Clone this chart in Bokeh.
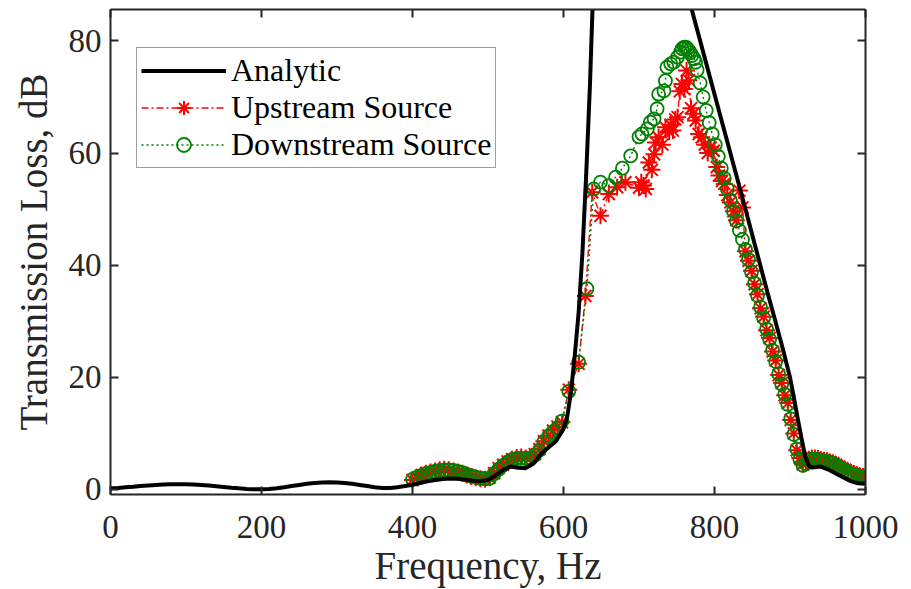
from bokeh.plotting import figure
from bokeh.models import Range1d, LinearAxis, FixedTicker, Legend, LegendItem
from bokeh.embed import file_html
from bokeh.resources import INLINE

# ---------------- data ----------------
analytic_f = [0, 10, 20, 30, 40, 50, 60, 70, 80, 90,
              100, 110, 120, 130, 140, 150, 160, 170, 180, 190,
              200, 210, 220, 230, 240, 250, 260, 270, 280, 290,
              300, 310, 320, 330, 340, 350, 360, 370, 380, 390,
              400, 410, 420, 430, 440, 450, 460, 470, 480, 490,
              500, 510, 520, 530, 540, 550, 560, 570, 580, 590,
              600, 605, 610, 615, 620, 625, 630, 635, 640, 645,
              660, 700, 740, 760, 765, 770, 780, 790, 800, 810,
              820, 830, 840, 850, 860, 870, 880, 890, 900, 905,
              910, 915, 920, 925, 930, 940, 950, 960, 970, 980,
              990, 1000]
analytic_tl = [0.20, 0.28, 0.38, 0.48, 0.60, 0.70, 0.80, 0.87, 0.92, 0.94,
               0.93, 0.88, 0.80, 0.70, 0.58, 0.45, 0.32, 0.20, 0.10, 0.05,
               0.05, 0.10, 0.22, 0.40, 0.60, 0.80, 1.00, 1.15, 1.25, 1.28,
               1.25, 1.15, 1.00, 0.80, 0.60, 0.40, 0.28, 0.28, 0.40, 0.60,
               0.85, 1.15, 1.45, 1.70, 1.88, 1.95, 1.90, 1.75, 1.55, 1.45,
               1.70, 2.50, 3.50, 4.10, 3.85, 3.80, 4.60, 6.30, 7.50, 8.60,
               10.8, 13.0, 17.5, 24.0, 31.5, 42.0, 56.0, 72.0, 92.0, 105.0,
               150.0, 200.0, 150.0, 100.0, 88.5, 85.5, 80.5, 75.5, 70.5, 65.5,
               60.5, 55.5, 50.5, 45.4, 40.3, 35.2, 30.3, 25.3, 20.0, 16.5,
               12.8, 9.3, 6.0, 4.2, 3.9, 4.1, 3.6, 2.9, 2.2, 1.5,
               1.1, 1.0]

upstream_f = [400, 406, 412, 418, 424, 430, 436, 442, 448, 454,
              460, 466, 472, 478, 484, 490, 496, 502, 508, 514,
              520, 526, 532, 538, 544, 550, 556, 562, 568, 574,
              580, 586, 592, 598, 607, 620, 629, 638, 649, 660,
              671, 682, 700, 703, 706, 709, 713, 717, 720, 722,
              726, 731, 735, 740, 742, 745, 748, 751, 754, 757,
              760, 763, 766, 769, 772, 775, 779, 783, 787, 791,
              795, 799, 803, 806, 810, 813, 817, 821, 825, 829,
              833, 837, 841, 845, 849, 853, 857, 861, 865, 869,
              873, 877, 881, 885, 889, 893, 897, 901, 905, 909,
              913, 917, 921, 925, 929, 933, 937, 941, 945, 949,
              953, 957, 961, 965, 969, 973, 977, 981, 985, 989,
              993, 997, 1000]
upstream_tl = [1.7, 2.1, 2.6, 2.9, 3.1, 3.3, 3.5, 3.6, 3.5, 3.3,
               3.1, 2.9, 2.6, 2.3, 2.1, 1.9, 1.8, 2.1, 2.9, 3.8,
               4.4, 5.0, 5.4, 5.7, 5.8, 5.6, 5.7, 6.3, 7.2, 8.6,
               9.6, 10.5, 11.2, 12.0, 17.8, 22.4, 34.5, 53.0, 48.8, 52.7,
               53.9, 54.8, 53.8, 54.8, 54.2, 53.6, 58.3, 57.0, 59.8, 61.9,
               62.8, 61.5, 64.6, 63.8, 65.0, 64.0, 66.0, 66.4, 71.0, 72.3,
               71.4, 74.7, 73.0, 68.0, 67.0, 65.8, 63.4, 62.8, 61.5, 60.0,
               61.0, 60.4, 57.5, 56.0, 55.0, 54.5, 52.5, 51.2, 49.6, 48.0,
               53.3, 50.3, 42.5, 40.8, 39.0, 36.6, 34.8, 32.3, 30.8, 28.4,
               27.0, 24.6, 23.0, 20.4, 19.0, 16.8, 15.4, 12.4, 10.0, 7.0,
               5.6, 4.5, 4.8, 5.4, 5.6, 5.6, 5.5, 5.3, 5.2, 5.1,
               4.9, 4.7, 4.4, 4.1, 3.8, 3.5, 3.2, 3.0, 2.8, 2.6,
               2.4, 2.3, 2.2]

downstream_f = [400, 406, 412, 418, 424, 430, 436, 442, 448, 454,
                460, 466, 472, 478, 484, 490, 496, 502, 508, 514,
                520, 526, 532, 538, 544, 550, 556, 562, 568, 574,
                580, 586, 592, 598, 607, 620, 631, 640, 649, 660,
                669, 678, 689, 700, 704, 711, 715, 720, 724, 726,
                733, 735, 737, 742, 746, 751, 755, 757, 760, 762,
                764, 766, 768, 770, 773, 775, 777, 781, 785, 789,
                793, 797, 801, 805, 809, 813, 817, 821, 825, 829,
                833, 837, 841, 845, 849, 853, 857, 861, 865, 869,
                873, 877, 881, 885, 889, 893, 897, 901, 905, 909,
                913, 917, 921, 925, 929, 933, 937, 941, 945, 949,
                953, 957, 961, 965, 969, 973, 977, 981, 985, 989,
                993, 997, 1000]
downstream_tl = [1.8, 2.2, 2.5, 2.8, 3.0, 3.2, 3.4, 3.5, 3.5, 3.4,
                 3.2, 3.0, 2.7, 2.4, 2.2, 2.0, 1.9, 2.0, 2.8, 3.6,
                 4.3, 4.9, 5.3, 5.5, 5.6, 5.5, 5.6, 6.1, 7.0, 8.5,
                 9.5, 10.3, 11.0, 12.2, 17.5, 22.7, 35.8, 53.6, 54.8, 54.2,
                 55.7, 57.3, 59.5, 62.9, 63.4, 64.3, 65.5, 66.1, 67.9, 70.5,
                 71.1, 72.9, 75.3, 75.9, 76.2, 77.1, 78.0, 78.6, 78.9, 78.9,
                 78.6, 78.3, 77.9, 77.4, 76.8, 76.2, 74.8, 72.5, 70.0, 67.6,
                 65.4, 63.4, 61.5, 59.4, 57.3, 55.5, 53.6, 51.6, 49.6, 47.9,
                 46.2, 44.6, 42.8, 41.0, 38.8, 36.8, 34.6, 32.5, 30.6, 28.6,
                 26.8, 24.8, 22.8, 20.6, 18.8, 17.0, 15.2, 12.6, 9.8, 7.2,
                 5.4, 4.3, 4.6, 5.2, 5.4, 5.4, 5.3, 5.2, 5.0, 5.0,
                 4.8, 4.6, 4.3, 4.0, 3.7, 3.4, 3.0, 2.8, 2.6, 2.4,
                 2.3, 2.2, 2.1]

x_ticks = [0, 200, 400, 600, 800, 1000]
y_ticks = [0, 20, 40, 60, 80]

# ---------------- styling ----------------
FONT = "Liberation Serif"
AXC = "#262626"
RED = "#ff0000"
GREEN = "#008000"

p = figure(width=911, height=589, output_backend="svg", toolbar_location=None,
           x_range=Range1d(0, 1000), y_range=Range1d(-0.9, 85.6),
           min_border_left=110, min_border_right=46, min_border_top=9,
           min_border_bottom=95, background_fill_color="white",
           border_fill_color="white")
p.grid.visible = False
p.outline_line_color = None

p.add_layout(LinearAxis(), "right")
p.add_layout(LinearAxis(), "above")

for ax in p.xaxis:
    ax.ticker = FixedTicker(ticks=x_ticks)
for ax in p.yaxis:
    ax.ticker = FixedTicker(ticks=y_ticks)
for ax in p.xaxis + p.yaxis:
    ax.major_tick_in = 8
    ax.major_tick_out = 0
    ax.minor_tick_line_color = None
    ax.axis_line_color = AXC
    ax.axis_line_width = 2
    ax.major_tick_line_color = AXC
    ax.major_tick_line_width = 2
    ax.major_label_text_font = FONT
    ax.major_label_text_font_size = "33px"
    ax.major_label_text_color = AXC
    ax.axis_label_text_font = FONT
    ax.axis_label_text_font_size = "39px"
    ax.axis_label_text_font_style = "normal"
    ax.axis_label_text_color = AXC

# mirrored axes carry ticks only
for ax in (p.right[0], p.above[0]):
    ax.major_label_text_color = None
    ax.major_label_text_font_size = "10px"
    ax.major_label_standoff = 0

p.below[0].axis_label = "Frequency, Hz"
p.left[0].axis_label = "Transmission Loss, dB"
p.below[0].major_label_standoff = 21
p.left[0].major_label_standoff = 9
p.below[0].axis_label_standoff = 3
p.left[0].axis_label_standoff = 11

# ---------------- series ----------------
red_line = p.line(upstream_f, upstream_tl, line_color=RED, line_width=1.4,
                  line_dash="7 3 2 3")
red_pts = p.scatter(upstream_f, upstream_tl, marker="asterisk", size=17,
                    line_color=RED, line_width=2)
green_line = p.line(downstream_f, downstream_tl, line_color=GREEN, line_width=1.4,
                    line_dash="2 3")
green_pts = p.scatter(downstream_f, downstream_tl, marker="circle", size=13,
                      fill_color=None, line_color=GREEN, line_width=1.8)
black = p.line(analytic_f, analytic_tl, line_color="black", line_width=4)

legend = Legend(items=[
    LegendItem(label="Analytic", renderers=[black]),
    LegendItem(label="Upstream Source", renderers=[red_line, red_pts]),
    LegendItem(label="Downstream Source", renderers=[green_line, green_pts]),
], location=(26, 326), orientation="vertical")
legend.label_text_font = FONT
legend.label_text_font_size = "32px"
legend.label_text_color = "black"
legend.glyph_width = 85
legend.glyph_height = 35
legend.label_height = 35
legend.label_standoff = 5
legend.padding = 4
legend.spacing = 0
legend.margin = 0
legend.border_line_color = "#404040"
legend.border_line_width = 1
legend.background_fill_color = "white"
legend.background_fill_alpha = 1.0
p.add_layout(legend)

open("out.html", "w").write(file_html(p, INLINE))
